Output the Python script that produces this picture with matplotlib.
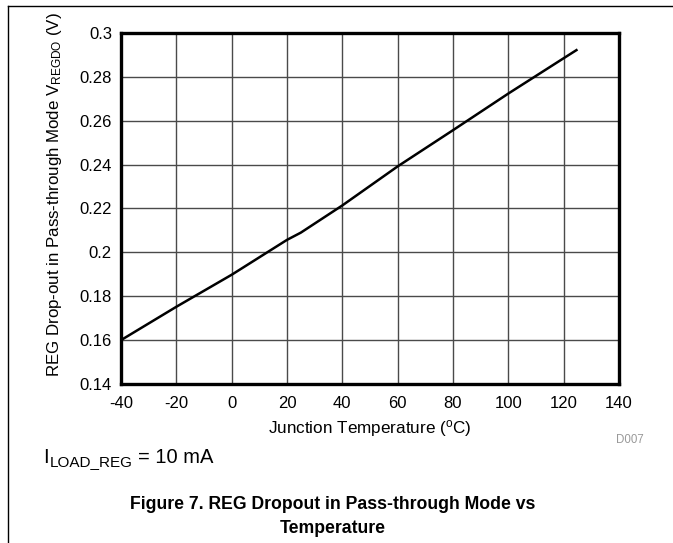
import matplotlib
matplotlib.use("Agg")
import matplotlib.pyplot as plt
from matplotlib.lines import Line2D

plt.rcParams['font.family'] = ['Liberation Sans', 'DejaVu Sans']
plt.rcParams['mathtext.default'] = 'regular'

temps = [-40, -20, 0, 20, 25, 40, 60, 80, 100, 120, 125]
dropout = [0.160, 0.1752, 0.1898, 0.2057, 0.209, 0.2214, 0.2392, 0.2557, 0.2724, 0.2885, 0.2925]
xticks = [-40, -20, 0, 20, 40, 60, 80, 100, 120, 140]
yticks = [0.14, 0.16, 0.18, 0.2, 0.22, 0.24, 0.26, 0.28, 0.3]
ytick_labels = ['0.14', '0.16', '0.18', '0.2', '0.22', '0.24', '0.26', '0.28', '0.3']

W, H = 673, 543
fig = plt.figure(figsize=(W / 100, H / 100), dpi=100)
ax = fig.add_axes([121 / W, 1 - 384 / H, (619 - 121) / W, (384 - 33) / H])

ax.plot(temps, dropout, color='black', lw=1.8, zorder=3, solid_capstyle='butt')
ax.set_xlim(-40, 140)
ax.set_ylim(0.14, 0.3)
ax.set_xticks(xticks)
ax.set_xticklabels([str(t) for t in xticks])
ax.set_yticks(yticks)
ax.set_yticklabels(ytick_labels)
ax.grid(True, color='#4a4a4a', lw=1.0)
ax.tick_params(axis='x', length=0, labelsize=12, pad=9, colors='black')
ax.tick_params(axis='y', length=0, labelsize=12, pad=6.5, colors='black')
for s in ax.spines.values():
    s.set_linewidth(2.4)
    s.set_color('black')
    s.set_zorder(4)

fig.text(370 / W, 1 - 433 / H, 'Junction Temperature ($^{o}$C)', fontsize=12.3,
         ha='center', va='baseline')
fig.text(55 / W, 1 - 195 / H, 'REG Drop-out in Pass-through Mode V$_{REGDO}$ (V)',
         fontsize=12.2, rotation=90, ha='center', va='center')

fig.text(630 / W, 1 - 440 / H, 'D007', fontsize=8.3, color='#999999', ha='center', va='center')

# I_LOAD_REG = 10 mA, built from pieces so the subscript keeps its size
renderer = fig.canvas.get_renderer()
x0 = 43
t = fig.text(x0 / W, 1 - 463 / H, 'I', fontsize=14.5, ha='left', va='baseline')
x0 = t.get_window_extent(renderer).x1 + 1
t = fig.text(x0 / W, 1 - 466 / H, 'LOAD_REG', fontsize=11, ha='left', va='baseline')
x0 = t.get_window_extent(renderer).x1 + 6
fig.text(x0 / W, 1 - 463 / H, '= 10 mA', fontsize=14.5, ha='left', va='baseline')

fig.text(333 / W, 1 - 509 / H, 'Figure 7. REG Dropout in Pass-through Mode vs',
         fontsize=12.7, fontweight='bold', ha='center', va='baseline')
fig.text(333 / W, 1 - 533 / H, 'Temperature',
         fontsize=12.7, fontweight='bold', ha='center', va='baseline')

fig.add_artist(Line2D([7.5 / W, 1.0], [1 - 6 / H, 1 - 6 / H], color='black', lw=1.0, transform=fig.transFigure))
fig.add_artist(Line2D([7.5 / W, 7.5 / W], [1 - 6 / H, 0.0], color='black', lw=1.0, transform=fig.transFigure))

fig.savefig('out.png', dpi=100)
